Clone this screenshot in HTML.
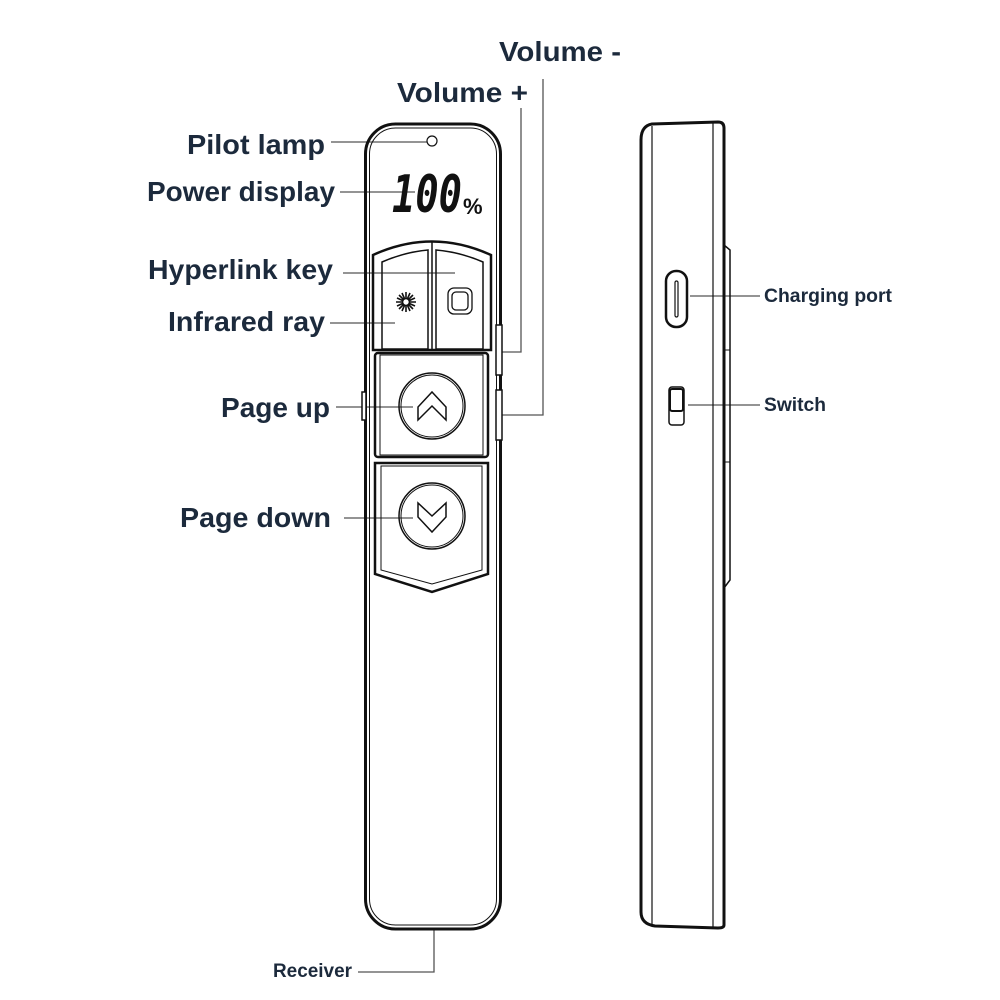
<!DOCTYPE html>
<html><head><meta charset="utf-8"><style>html,body{margin:0;padding:0;background:#fff}svg{display:block}</style></head>
<body>
<svg width="1000" height="1000" viewBox="0 0 1000 1000" xmlns="http://www.w3.org/2000/svg">
<g font-family="Liberation Sans, sans-serif" fill="#1c2a3c" font-weight="bold">
<text x="187" y="154" font-size="28" textLength="138" lengthAdjust="spacingAndGlyphs">Pilot lamp</text>
<text x="147" y="201" font-size="28" textLength="188" lengthAdjust="spacingAndGlyphs">Power display</text>
<text x="148" y="279" font-size="28" textLength="185" lengthAdjust="spacingAndGlyphs">Hyperlink key</text>
<text x="168" y="331" font-size="28" textLength="157" lengthAdjust="spacingAndGlyphs">Infrared ray</text>
<text x="221" y="417" font-size="28" textLength="109" lengthAdjust="spacingAndGlyphs">Page up</text>
<text x="180" y="527" font-size="28" textLength="151" lengthAdjust="spacingAndGlyphs">Page down</text>
<text x="397" y="102" font-size="28" textLength="131" lengthAdjust="spacingAndGlyphs">Volume +</text>
<text x="499" y="61" font-size="28" textLength="122" lengthAdjust="spacingAndGlyphs">Volume -</text>
<text x="273" y="977" font-size="19" textLength="79" lengthAdjust="spacingAndGlyphs">Receiver</text>
<text x="764" y="302" font-size="19" textLength="128" lengthAdjust="spacingAndGlyphs">Charging port</text>
<text x="764" y="411" font-size="19" textLength="62" lengthAdjust="spacingAndGlyphs">Switch</text>
</g>
<g stroke="#555" stroke-width="1.3" fill="none">
<path d="M331 142H427"/><path d="M340 192H415"/><path d="M343 273H455"/><path d="M330 323H395"/>
<path d="M336 407H413"/><path d="M344 518H413"/>
<path d="M521 108V352H501"/><path d="M543 79V415H501"/>
<path d="M358 972H434V930"/>
<path d="M690 296H760"/><path d="M688 405H760"/>
</g>
<g fill="none" stroke="#111">
<rect x="365.5" y="124" width="135" height="805" rx="30" stroke-width="3"/>
<rect x="369.5" y="128" width="127" height="797" rx="26" stroke-width="1"/>
<circle cx="432" cy="141" r="5" stroke-width="1.2"/>
<rect x="496" y="325" width="6" height="50" stroke-width="1.5" fill="#fff"/>
<rect x="496" y="390" width="6" height="50" stroke-width="1.5" fill="#fff"/>
<rect x="362" y="392" width="4" height="28" stroke-width="1.5" fill="#fff"/>
<path d="M373 255 Q432 228 491 255 V350 H373Z" stroke-width="2.5"/>
<path d="M382 262 Q405 252 428 250 V349 H382Z" stroke-width="1.5"/>
<path d="M436 250 Q460 252 483 262 V349 H436Z" stroke-width="1.5"/>
<line x1="432" y1="242" x2="432" y2="350" stroke-width="1.5"/>
<rect x="448" y="288" width="24" height="26" rx="6" stroke-width="1.3"/>
<rect x="452" y="292" width="16" height="18" rx="4" stroke-width="1.3"/>
<g stroke-width="1.6" transform="translate(406,302)">
<path d="M-10 0H10M0 -10V10M-7 -7L7 7M-7 7L7 -7M-4 -9L4 9M4 -9L-4 9M-9 -4L9 4M9 -4L-9 4"/>
<circle r="3.5" fill="#fff"/>
</g>
<rect x="375" y="353" width="113" height="104" rx="3" stroke-width="2.5"/>
<rect x="380" y="355" width="103" height="100" stroke-width="1"/>
<circle cx="432" cy="406" r="33" stroke-width="1.5"/>
<circle cx="432" cy="406" r="31" stroke-width="1"/>
<path d="M418 420V407L432 392L446 407V420L432 406Z" stroke-width="1.5"/>
<path d="M375 463H488V574L432 592L375 574Z" stroke-width="2.5"/>
<path d="M381 466H482V570L432 584L381 570Z" stroke-width="1"/>
<circle cx="432" cy="516" r="33" stroke-width="1.5"/>
<circle cx="432" cy="516" r="31" stroke-width="1"/>
<path d="M418 503V517L432 532L446 517V503L432 516Z" stroke-width="1.5"/>
<path d="M652 124 L718 122 Q724 122 724 128 V925 Q724 928 718 928 L655 926 Q641 924 641 912 V140 Q641 126 652 124Z" stroke-width="3"/>
<line x1="652" y1="126" x2="652" y2="926" stroke-width="1.2"/>
<line x1="713" y1="123" x2="713" y2="928" stroke-width="1.2"/>
<path d="M724 245 L730 250 V580 L724 588" stroke-width="1.5"/>
<line x1="724" y1="350" x2="730" y2="350" stroke-width="1"/>
<line x1="724" y1="462" x2="730" y2="462" stroke-width="1"/>
<rect x="666" y="271" width="21" height="56" rx="10" stroke-width="2.5"/>
<rect x="675" y="281" width="3" height="36" rx="1.5" stroke-width="1.2"/>
<rect x="669" y="387" width="15" height="38" rx="3" stroke-width="1.5"/>
<rect x="670" y="389" width="13" height="22" rx="2" stroke-width="2"/>
</g>
<g font-family="DejaVu Sans Mono, monospace" font-weight="bold" fill="#111">
<text x="392" y="212" font-size="52" font-style="italic" textLength="70" lengthAdjust="spacingAndGlyphs">100</text>
<text x="463" y="214" font-size="22" font-family="Liberation Sans, sans-serif">%</text>
</g>
</svg>
</body></html>
